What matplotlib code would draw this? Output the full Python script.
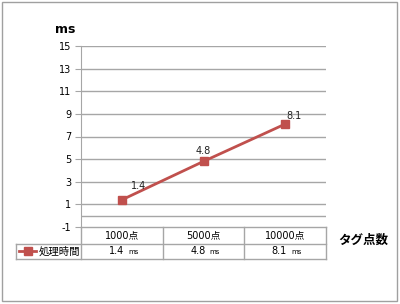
#coding:UTF-8
import matplotlib
matplotlib.use('Agg')
import matplotlib.pyplot as plt
from matplotlib.patches import Rectangle

plt.rcParams['font.family'] = ['DejaVu Sans', 'Noto Sans CJK JP']

categories = ['1000点', '5000点', '10000点']
values = [1.4, 4.8, 8.1]
series_name = '処理時間'
y_ticks = [-1, 1, 3, 5, 7, 9, 11, 13, 15]
unit = 'ms'
x_title = 'タグ点数'

W, H = 400, 304
red = '#C0504D'
grid = '#A6A6A6'


def fx(px):
    return px / W


def fy(py):
    return 1 - py / H


fig = plt.figure(figsize=(W / 100, H / 100), dpi=100)
fig.patches.append(Rectangle((fx(2), fy(301)), fx(395), 299 / H, transform=fig.transFigure,
                             fill=False, edgecolor='#A0A0A0', lw=1))

left, right, top, bottom = 81, 326, 46, 227
ax = fig.add_axes([fx(left), fy(bottom), fx(right - left), (bottom - top) / H])
ax.set_xlim(0, len(categories))
ax.set_ylim(-1, 15)
for s in ['top', 'right', 'bottom']:
    ax.spines[s].set_visible(False)
ax.spines['left'].set_color(grid)
ax.set_yticks(y_ticks)
ax.set_yticklabels([str(v) for v in y_ticks], fontsize=7)
ax.tick_params(axis='y', length=4, color=grid, pad=3)
ax.set_xticks([])
for v in y_ticks[1:]:
    ax.axhline(v, color=grid, lw=1, zorder=1)
ax.axhline(0, color=grid, lw=1, zorder=1)

xs = [i + 0.5 for i in range(len(categories))]
ax.plot(xs, values, color=red, lw=2, marker='s', markersize=6, zorder=3)
offsets = [(0.2, 0.75), (0, 0.5), (0.11, 0.3)]
for x, v, (dx, dy) in zip(xs, values, offsets):
    ax.text(x + dx, v + dy, str(v), fontsize=7, ha='center', va='bottom', color='#222222')

fig.text(fx(75), fy(36), unit, fontsize=9, fontweight='bold', ha='right', va='bottom')

# data table under the axis
row1, row2 = 244, 259
col_edges = [81, 163, 244, 326]
lkw = dict(color=grid, lw=1, transform=fig.transFigure, clip_on=False)
fig.add_artist(plt.Line2D([fx(81), fx(326)], [fy(227), fy(227)], **lkw))
fig.add_artist(plt.Line2D([fx(16), fx(326)], [fy(row1), fy(row1)], **lkw))
fig.add_artist(plt.Line2D([fx(16), fx(326)], [fy(row2), fy(row2)], **lkw))
fig.add_artist(plt.Line2D([fx(16), fx(16)], [fy(row1), fy(row2)], **lkw))
for c in col_edges:
    fig.add_artist(plt.Line2D([fx(c), fx(c)], [fy(227), fy(row2)], **lkw))

for i, (cat, v) in enumerate(zip(categories, values)):
    cx = (col_edges[i] + col_edges[i + 1]) / 2
    fig.text(fx(cx), fy(235.5), cat, fontsize=7, ha='center', va='center',
             family=['DejaVu Sans', 'Noto Sans CJK JP'])
    fig.text(fx(cx + 2), fy(251.5), str(v), fontsize=7, ha='right', va='center')
    fig.text(fx(cx + 6), fy(251.5), unit, fontsize=5, ha='left', va='center')

fig.add_artist(plt.Line2D([fx(19), fx(36)], [fy(251), fy(251)], color=red, lw=2,
                          transform=fig.transFigure))
fig.add_artist(plt.Line2D([fx(27.5)], [fy(251)], color=red, marker='s', markersize=6,
                          lw=0, transform=fig.transFigure))
fig.text(fx(39), fy(251.5), series_name, fontsize=7.5, ha='left', va='center',
         family=['Noto Sans CJK JP', 'DejaVu Sans'])

fig.text(fx(363), fy(240), x_title, fontsize=9, fontweight='bold', ha='center', va='center',
         family=['Noto Sans CJK JP', 'DejaVu Sans'])

fig.savefig('out.png', dpi=100)
